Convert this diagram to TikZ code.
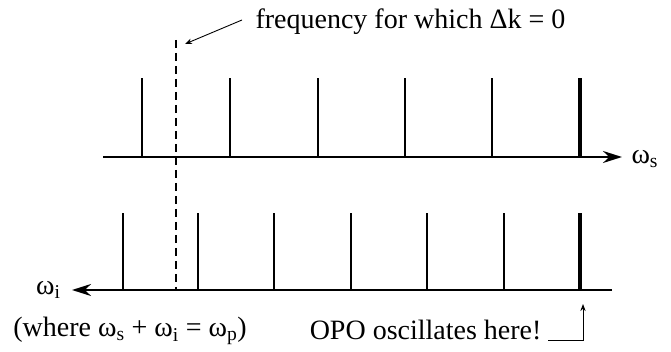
\documentclass[tikz,border=0pt]{standalone}
\usepackage{fontspec}
\setmainfont{Liberation Serif}
\usetikzlibrary{arrows.meta,positioning,calc}

\begin{document}
\begin{tikzpicture}[x=1pt, y=-1pt, >=Stealth,
    font=\fontsize{28}{32}\selectfont,
    axis/.style={line width=2.2pt, -{Stealth[length=19pt,width=12pt]}},
    peak/.style={line width=2.2pt},
    mainpeak/.style={line width=4.5pt}]
        \useasboundingbox (0,0) rectangle (671,352);
        % signal axis
        \coordinate (sL) at (103,157);
        \coordinate (sR) at (622,157);
        \draw[axis] (sL) -- (sR);
        \node[anchor=west] (ws) at (628,159) {ω\textsubscript{s}};
        % idler axis
        \coordinate (iR) at (612,290);
        \coordinate (iL) at (72,290);
        \draw[axis] (iR) -- (iL);
        \node[anchor=east] (wi) at (64,290) {ω\textsubscript{i}};
        % modes
        \foreach \x in {142,230,318,405,492}
          \draw[peak] (\x,157) -- (\x,78);
        \draw[mainpeak] (580,157) -- (580,78);
        \foreach \x in {123,198,274,351,427,504}
          \draw[peak] (\x,290) -- (\x,213);
        \draw[mainpeak] (580,290) -- (580,213);
        % phase matching
        \coordinate (pmT) at (176,40);
        \coordinate (pmB) at (176,290);
        \draw[line width=2.4pt, dash pattern=on 8pt off 5pt] (pmT) -- (pmB);
        \node[anchor=west] (pmtext) at (252,22) {frequency for which Δk = 0};
        \coordinate (pmA) at (185,44);
        \draw[->, line width=0.9pt] (pmtext.west) ++(-10,-2) -- (pmA);
        % notes
        \node (cons) at (130,331) {(where ω\textsubscript{s} + ω\textsubscript{i} = ω\textsubscript{p})};
        \node[anchor=east] (opo) at (545,330) {OPO oscillates here!};
        \coordinate (opoA) at (583,304);
        \draw[->, line width=0.9pt] ($(opo.east)+(3,10)$) -| (opoA);
      \end{tikzpicture}
\end{document}
